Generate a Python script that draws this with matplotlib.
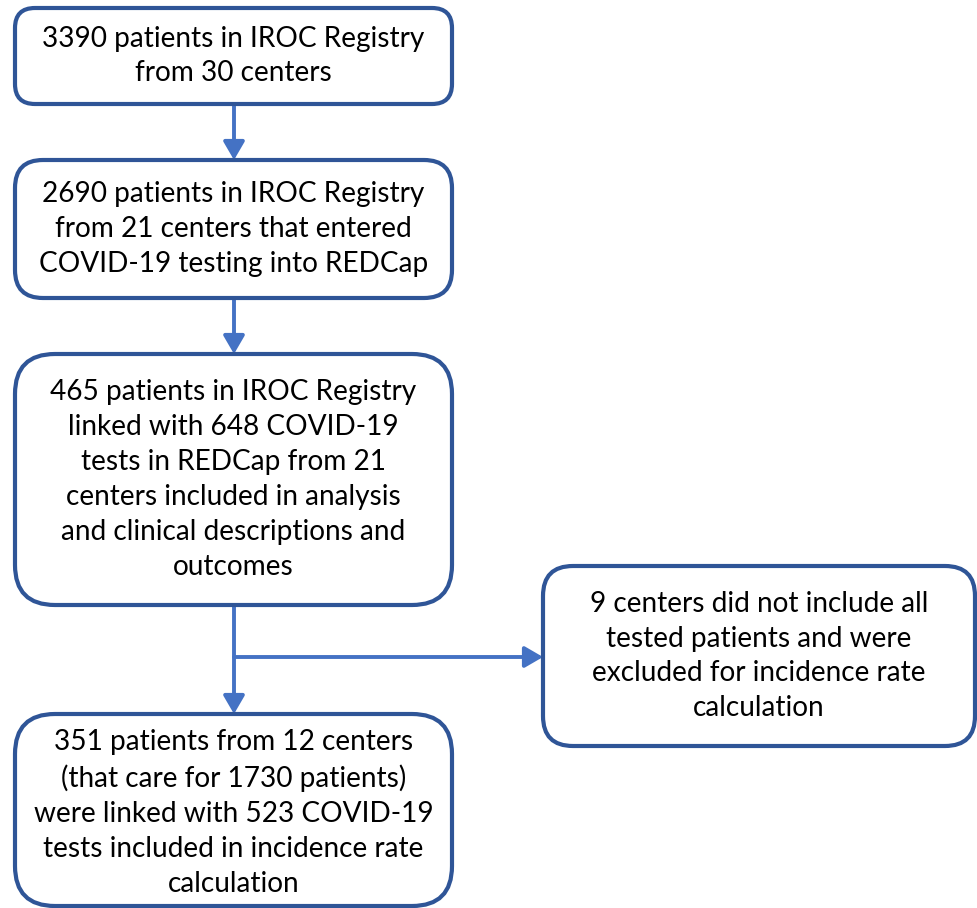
import matplotlib
matplotlib.use('Agg')
import matplotlib.pyplot as plt
from matplotlib.patches import FancyBboxPatch, FancyArrowPatch

plt.rcParams['font.family'] = ['Lato', 'DejaVu Sans']

# 流程圖各方塊文字
main_steps = [
    "3390 patients in IROC Registry\nfrom 30 centers",
    "2690 patients in IROC Registry\nfrom 21 centers that entered\nCOVID-19 testing into REDCap",
    "465 patients in IROC Registry\nlinked with 648 COVID-19\ntests in REDCap from 21\ncenters included in analysis\nand clinical descriptions and\noutcomes",
    "351 patients from 12 centers\n(that care for 1730 patients)\nwere linked with 523 COVID-19\ntests included in incidence rate\ncalculation",
]
side_step = "9 centers did not include all\ntested patients and were\nexcluded for incidence rate\ncalculation"

# 版面 (像素, 原點左上)
W, H = 978, 908
main_x0, main_x1 = 15, 452
main_y = [(8, 104), (160, 298), (354, 605), (714, 906)]
main_r = [20, 28, 40, 40]
side_box = (543, 975, 566, 746)
branch_y = 657

edge_col = '#2F5597'
arrow_col = '#4472C4'
fs = 20.2

fig = plt.figure(figsize=(W / 100, H / 100), dpi=100)
ax = fig.add_axes([0, 0, 1, 1])
ax.set_xlim(0, W)
ax.set_ylim(H, 0)
ax.axis('off')


def box(x0, x1, y0, y1, r, text, dy=0):
    p = FancyBboxPatch((x0, y0), x1 - x0, y1 - y0,
                       boxstyle=f"round,pad=0,rounding_size={r}",
                       facecolor='white', edgecolor=edge_col, linewidth=3.0,
                       zorder=2)
    ax.add_patch(p)
    ax.text((x0 + x1) / 2, (y0 + y1) / 2 + dy, text, ha='center', va='center',
            fontsize=fs, linespacing=1.42, color='black', zorder=3)


for (y0, y1), r, txt in zip(main_y, main_r, main_steps):
    box(main_x0, main_x1, y0, y1, r, txt, dy=3 if y0 > 700 else 0)
sx0, sx1, sy0, sy1 = side_box
box(sx0, sx1, sy0, sy1, 30, side_step)


def arrow(p0, p1):
    a = FancyArrowPatch(p0, p1, arrowstyle='-|>,head_length=0.55,head_width=0.32',
                        mutation_scale=20, color=arrow_col, linewidth=2.8,
                        shrinkA=0, shrinkB=0, zorder=1)
    ax.add_patch(a)


cx = (main_x0 + main_x1) / 2 + 0.5
for i in range(len(main_y) - 1):
    arrow((cx, main_y[i][1]), (cx, main_y[i + 1][0]))
arrow((cx, branch_y), (sx0, branch_y))

fig.savefig('out.png', dpi=100)
